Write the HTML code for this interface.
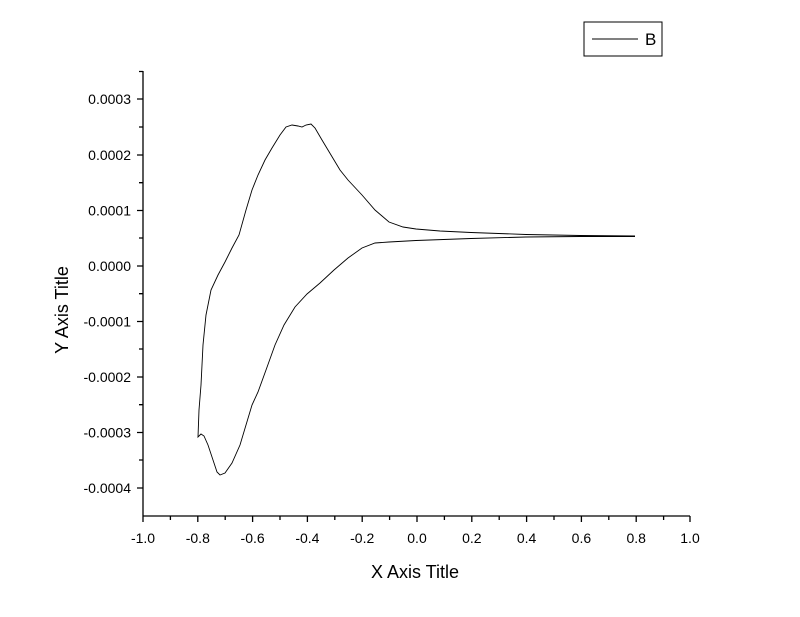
<!DOCTYPE html>
<html><head><style>body{margin:0;background:#fff}svg{display:block}text{font-family:"Liberation Sans",Arial,sans-serif;fill:#000}</style></head>
<body>
<svg width="800" height="617" viewBox="0 0 800 617" xmlns="http://www.w3.org/2000/svg">
<g stroke="#000" stroke-width="1.3" fill="none">
<line x1="143" y1="71" x2="143" y2="516"/>
<line x1="143" y1="516" x2="690" y2="516"/>
<path d="M143 516v6M197.8 516v6M252.6 516v6M307.4 516v6M362.2 516v6M417 516v6M471.8 516v6M526.6 516v6M581.4 516v6M636.2 516v6M690 516v6"/>
<path d="M170.4 516v4M225.2 516v4M280 516v4M334.8 516v4M389.6 516v4M444.4 516v4M499.2 516v4M554 516v4M608.8 516v4M663.6 516v4"/>
<path d="M143 99h-6M143 155h-6M143 210.5h-6M143 266h-6M143 321.5h-6M143 377h-6M143 432.5h-6M143 488h-6"/>
<path d="M143 71.5h-4M143 127h-4M143 182.7h-4M143 238h-4M143 293.7h-4M143 349h-4M143 404.7h-4M143 460h-4"/>
</g>
<g font-size="14" text-anchor="middle">
<text x="143" y="543">-1.0</text><text x="197.8" y="543">-0.8</text><text x="252.6" y="543">-0.6</text><text x="307.4" y="543">-0.4</text><text x="362.2" y="543">-0.2</text><text x="417" y="543">0.0</text><text x="471.8" y="543">0.2</text><text x="526.6" y="543">0.4</text><text x="581.4" y="543">0.6</text><text x="636.2" y="543">0.8</text><text x="690" y="543">1.0</text>
</g>
<g font-size="14" text-anchor="end">
<text x="131" y="104">0.0003</text><text x="131" y="160">0.0002</text><text x="131" y="215.5">0.0001</text><text x="131" y="271">0.0000</text><text x="131" y="326.5">-0.0001</text><text x="131" y="382">-0.0002</text><text x="131" y="437.5">-0.0003</text><text x="131" y="493">-0.0004</text>
</g>
<text x="415" y="578" font-size="18" text-anchor="middle">X Axis Title</text>
<text transform="translate(68,310) rotate(-90)" font-size="18" text-anchor="middle">Y Axis Title</text>
<path fill="none" stroke="#000" stroke-width="0.9" d="M635 236 L580 235.5 L526 234.5 L471 232.5 L440 231 L416 229 L403 227 L389 222 L375 210 L362 195 L348 180 L340 170 L334 160 L322 140 L315 128 L311 124 L306 125 L302 127 L298 126 L292 125 L286 127 L280 135 L272 148 L265 160 L258 175 L252 190 L246 210 L239 235 L232 248 L225 262 L218 275 L211 290 L206 315 L203 345 L201 385 L199 410 L198 437 L201 434 L204 436 L208 445 L213 460 L217 472 L220 475 L225 473 L232 463 L240 445 L246 425 L252 405 L258 392 L266 370 L275 345 L284 325 L295 307 L307 294 L320 283 L334 270 L348 258 L362 248 L375 243 L389 242 L416 240.5 L471 238.5 L526 237 L580 236.5 L635 236.5"/>
<rect x="584" y="22" width="78" height="34" fill="none" stroke="#000" stroke-width="1"/>
<line x1="592" y1="39" x2="638" y2="39" stroke="#000" stroke-width="0.9"/>
<text x="645" y="45" font-size="17">B</text>
</svg>
</body></html>
